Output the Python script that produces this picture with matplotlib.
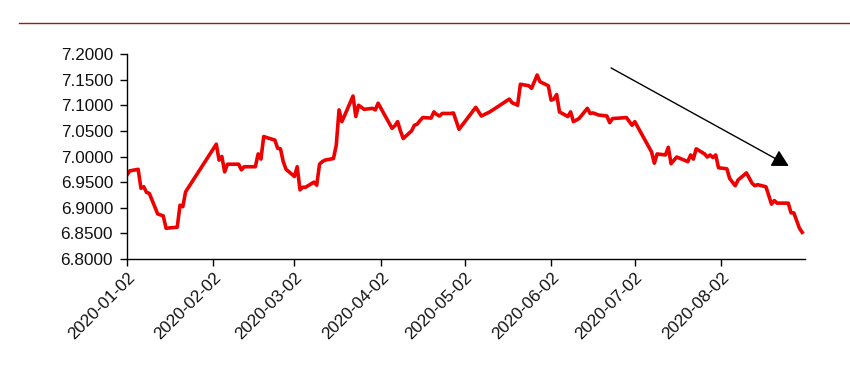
import matplotlib
matplotlib.use("Agg")
import matplotlib.pyplot as plt
import matplotlib.dates as mdates
from matplotlib.lines import Line2D
import pandas as pd

plt.rcParams['font.family'] = ['Liberation Sans', 'DejaVu Sans']

dates = [
    "2020-01-02", "2020-01-03", "2020-01-06", "2020-01-07", "2020-01-08", "2020-01-09",
    "2020-01-10", "2020-01-13", "2020-01-14", "2020-01-15", "2020-01-16", "2020-01-20",
    "2020-01-21", "2020-01-22", "2020-01-23",
    "2020-02-03", "2020-02-04", "2020-02-05", "2020-02-06", "2020-02-07", "2020-02-10",
    "2020-02-11", "2020-02-12", "2020-02-13", "2020-02-17", "2020-02-18", "2020-02-19",
    "2020-02-20", "2020-02-21", "2020-02-24", "2020-02-25", "2020-02-26", "2020-02-27",
    "2020-02-28",
    "2020-03-02", "2020-03-03", "2020-03-04", "2020-03-05", "2020-03-06", "2020-03-09",
    "2020-03-10", "2020-03-11", "2020-03-12", "2020-03-13", "2020-03-16", "2020-03-17",
    "2020-03-18", "2020-03-19", "2020-03-20", "2020-03-23", "2020-03-24", "2020-03-25",
    "2020-03-26", "2020-03-27", "2020-03-30", "2020-03-31",
    "2020-04-01", "2020-04-06", "2020-04-07", "2020-04-08", "2020-04-09", "2020-04-10",
    "2020-04-13", "2020-04-14", "2020-04-15", "2020-04-16", "2020-04-17", "2020-04-20",
    "2020-04-21", "2020-04-22", "2020-04-23", "2020-04-24", "2020-04-27", "2020-04-28",
    "2020-04-30",
    "2020-05-06", "2020-05-08", "2020-05-11", "2020-05-13", "2020-05-18", "2020-05-19",
    "2020-05-21", "2020-05-22", "2020-05-25", "2020-05-26", "2020-05-28", "2020-05-29",
    "2020-06-01", "2020-06-02", "2020-06-03", "2020-06-04", "2020-06-05", "2020-06-08",
    "2020-06-09", "2020-06-10", "2020-06-12", "2020-06-15", "2020-06-16", "2020-06-17",
    "2020-06-19", "2020-06-22", "2020-06-23", "2020-06-24", "2020-06-29",
    "2020-07-01", "2020-07-02", "2020-07-07", "2020-07-08", "2020-07-09", "2020-07-10",
    "2020-07-13", "2020-07-14", "2020-07-15", "2020-07-17", "2020-07-21", "2020-07-22",
    "2020-07-23", "2020-07-24", "2020-07-27", "2020-07-28", "2020-07-29", "2020-07-30",
    "2020-07-31",
    "2020-08-01", "2020-08-04", "2020-08-05", "2020-08-07", "2020-08-08", "2020-08-11",
    "2020-08-13", "2020-08-14", "2020-08-15", "2020-08-18", "2020-08-20", "2020-08-21",
    "2020-08-22", "2020-08-26", "2020-08-27", "2020-08-28", "2020-08-30", "2020-08-31",
]

rates = [
    6.964, 6.972, 6.975, 6.938, 6.941, 6.930,
    6.928, 6.888, 6.886, 6.884, 6.860, 6.862,
    6.905, 6.902, 6.931,
    7.024, 6.993, 7.000, 6.970, 6.985, 6.985,
    6.985, 6.974, 6.980, 6.980, 7.005, 6.995,
    7.039, 7.037, 7.032, 7.016, 7.015, 6.990,
    6.975,
    6.961, 6.980, 6.935, 6.940, 6.940, 6.950,
    6.944, 6.985, 6.990, 6.993, 6.996, 7.022,
    7.091, 7.068, 7.080, 7.118, 7.078, 7.100,
    7.096, 7.092, 7.094, 7.091,
    7.104, 7.055, 7.060, 7.068, 7.050, 7.035,
    7.050, 7.061, 7.063, 7.070, 7.076, 7.075,
    7.087, 7.082, 7.079, 7.084, 7.084, 7.085,
    7.053,
    7.096, 7.079, 7.087, 7.094, 7.112, 7.105,
    7.100, 7.141, 7.138, 7.133, 7.159, 7.146,
    7.138, 7.110, 7.112, 7.121, 7.087, 7.078,
    7.087, 7.068, 7.074, 7.094, 7.084, 7.085,
    7.081, 7.079, 7.066, 7.074, 7.076,
    7.061, 7.068, 7.019, 7.009, 6.987, 7.005,
    7.003, 7.018, 6.986, 6.999, 6.990, 7.003,
    6.995, 7.015, 7.005, 6.999, 7.003, 6.998,
    7.003,
    6.978, 6.976, 6.957, 6.943, 6.954, 6.968,
    6.948, 6.943, 6.945, 6.941, 6.907, 6.914,
    6.909, 6.909, 6.890, 6.890, 6.860, 6.852,
]

tick_labels = ["2020-01-02", "2020-02-02", "2020-03-02", "2020-04-02",
               "2020-05-02", "2020-06-02", "2020-07-02", "2020-08-02"]
y_ticks = [6.80, 6.85, 6.90, 6.95, 7.00, 7.05, 7.10, 7.15, 7.20]

x = pd.to_datetime(dates)

fig = plt.figure(figsize=(8.5, 3.69), dpi=100)
ax = fig.add_axes([127 / 850, 1 - 259 / 369, (805 - 127) / 850, (259 - 54) / 369])

ax.plot(x, rates, color="#ee0000", lw=2.6, solid_joinstyle="round")

ax.set_xlim(pd.Timestamp("2020-01-02"), pd.Timestamp("2020-09-01"))
ax.set_ylim(6.8, 7.2)
ax.set_yticks(y_ticks)
ax.set_yticklabels([f"{v:.4f}" for v in y_ticks])
ax.set_xticks(pd.to_datetime(tick_labels))
ax.set_xticklabels(tick_labels, rotation=45, ha="right", va="top",
                   rotation_mode="anchor")

for s in ["top", "right"]:
    ax.spines[s].set_visible(False)
for s in ["left", "bottom"]:
    ax.spines[s].set_color("black")
    ax.spines[s].set_linewidth(1.0)
ax.tick_params(axis="both", direction="out", length=5, width=1, colors="black",
               labelsize=12.3, labelcolor="#111111")
ax.tick_params(axis="x", pad=3)
ax.tick_params(axis="y", pad=5)

ax.annotate("", xy=(0.976, 0.454), xytext=(0.714, 0.932),
            xycoords="axes fraction", textcoords="axes fraction",
            arrowprops=dict(arrowstyle="-|>,head_length=1.0,head_width=0.55",
                            color="black", lw=1.0, shrinkA=0, shrinkB=0))

fig.add_artist(Line2D([19 / 850, 1.0], [1 - 23 / 369, 1 - 23 / 369],
                      color="#a01818", lw=1.0, transform=fig.transFigure))

fig.savefig("out.png", dpi=100)
